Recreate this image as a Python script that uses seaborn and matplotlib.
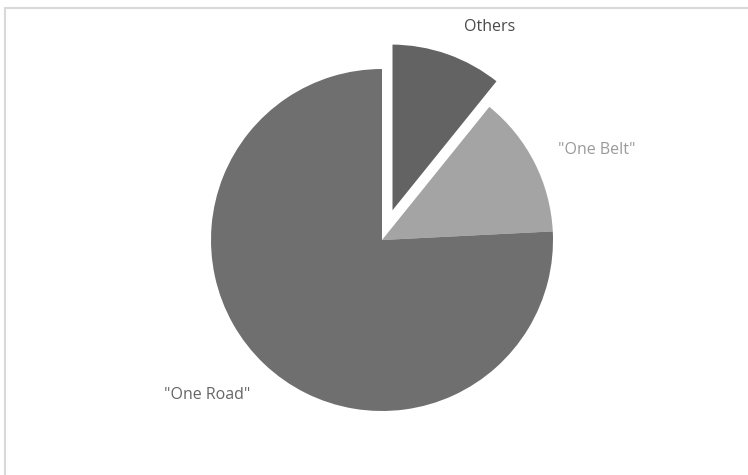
import matplotlib
matplotlib.use("Agg")
import matplotlib.pyplot as plt
import seaborn as sns
from matplotlib.patches import Rectangle

sns.set_theme(style="white")
plt.rcParams['font.family'] = ['Open Sans', 'DejaVu Sans']

categories = ['Others', '"One Belt"', '"One Road"']
shares = [10.8, 13.4, 75.8]
colors = ['#636363', '#a4a4a4', '#6f6f6f']
label_colors = ['#4a4a4a', '#9a9a9a', '#666666']
explode_frac = [0.16, 0, 0]

W, H = 748, 475
fig = plt.figure(figsize=(W / 100, H / 100), dpi=100)
fig.patch.set_facecolor('white')
fig.patches.append(Rectangle((5 / W, -0.2), 1.2, (H - 8) / H + 0.2, transform=fig.transFigure,
                             fill=False, edgecolor='#d9d9d9', linewidth=1.5, zorder=0))

ax = fig.add_axes([0, 0, 1, 1])
ax.set_aspect('equal')

cx, cy, r = 382, H - 240, 171
wedges, _ = ax.pie(shares, colors=colors, explode=[e * r for e in explode_frac],
                   startangle=90, counterclock=False,
                   center=(cx, cy), radius=r, frame=True,
                   wedgeprops=dict(linewidth=0))
wedges[0].set_edgecolor('white')
wedges[0].set_linewidth(2)
ax.set_xlim(0, W)
ax.set_ylim(0, H)
ax.axis('off')

label_pos = [(490, 27), (597, 150), (207, 395)]
for name, (lx, ly), c in zip(categories, label_pos, label_colors):
    ax.text(lx, H - ly, name, ha='center', va='center', fontsize=11.5, color=c)

fig.savefig('out.png', dpi=100)
